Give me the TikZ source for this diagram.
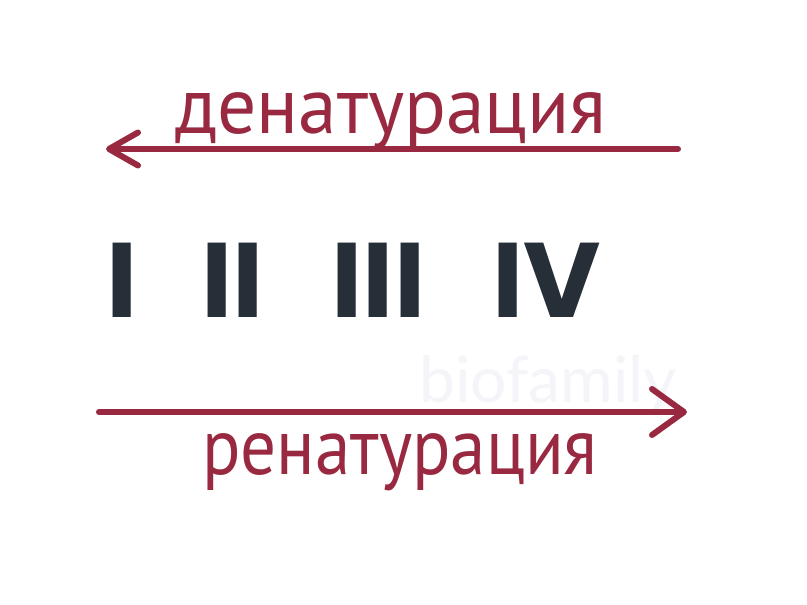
\documentclass[tikz,border=0pt]{standalone}
\usepackage{fontspec}
\usepackage{xcolor}
\usepackage{tikz}
\usetikzlibrary{arrows.meta}
\newfontfamily\labelfont{PT Sans}
\newfontfamily\numfont{Poppins}
\newfontfamily\markfont{Lato}

\begin{document}
\begin{tikzpicture}[x=1pt,y=1pt]
\definecolor{fillColor}{RGB}{255,255,255}
\definecolor{arrowColor}{RGB}{152,41,64}
\definecolor{numColor}{RGB}{38,47,56}
\definecolor{markColor}{RGB}{244,244,249}
\tikzset{
  label/.style={text=arrowColor,anchor=base,inner sep=0pt,outer sep=0pt,font=\labelfont\fontsize{80}{80}\selectfont},
  numeral/.style={text=numColor,anchor=base,inner sep=0pt,outer sep=0pt,font=\numfont\bfseries\fontsize{106}{106}\selectfont},
  process/.style={draw=arrowColor,line width=6pt,line cap=round,line join=round,
    -{Straight Barb[length=29pt,width=33pt,round]}}
}
\path[use as bounding box,fill=fillColor] (0,0) rectangle (807,605);

% watermark
\node[text=markColor,anchor=base,inner sep=0pt,outer sep=0pt,font=\markfont\fontsize{64}{64}\selectfont] (mark) at (548,202) {biofamily};

% denaturation (top)
\node[label,xscale=0.97] (denat) at (391,471) {денатурация};
\coordinate (dstart) at (678,456);
\coordinate (dend) at (106,456);
\path[process] (dstart) -- (dend);

% structure levels
\node[numeral] (lvlI) at (122.5,287) {I};
\node[numeral] (lvlII) at (232.5,287) {II};
\node[numeral] (lvlIII) at (378.5,287) {III};
\node[numeral] (lvlIV) at (546.5,287) {IV};

% renaturation (bottom)
\coordinate (rstart) at (99,193);
\coordinate (rend) at (687,193);
\path[process,-{Straight Barb[length=32pt,width=46pt,round]}] (rstart) -- (rend);
\node[label,xscale=0.89] (renat) at (400,130) {ренатурация};
\end{tikzpicture}
\end{document}
